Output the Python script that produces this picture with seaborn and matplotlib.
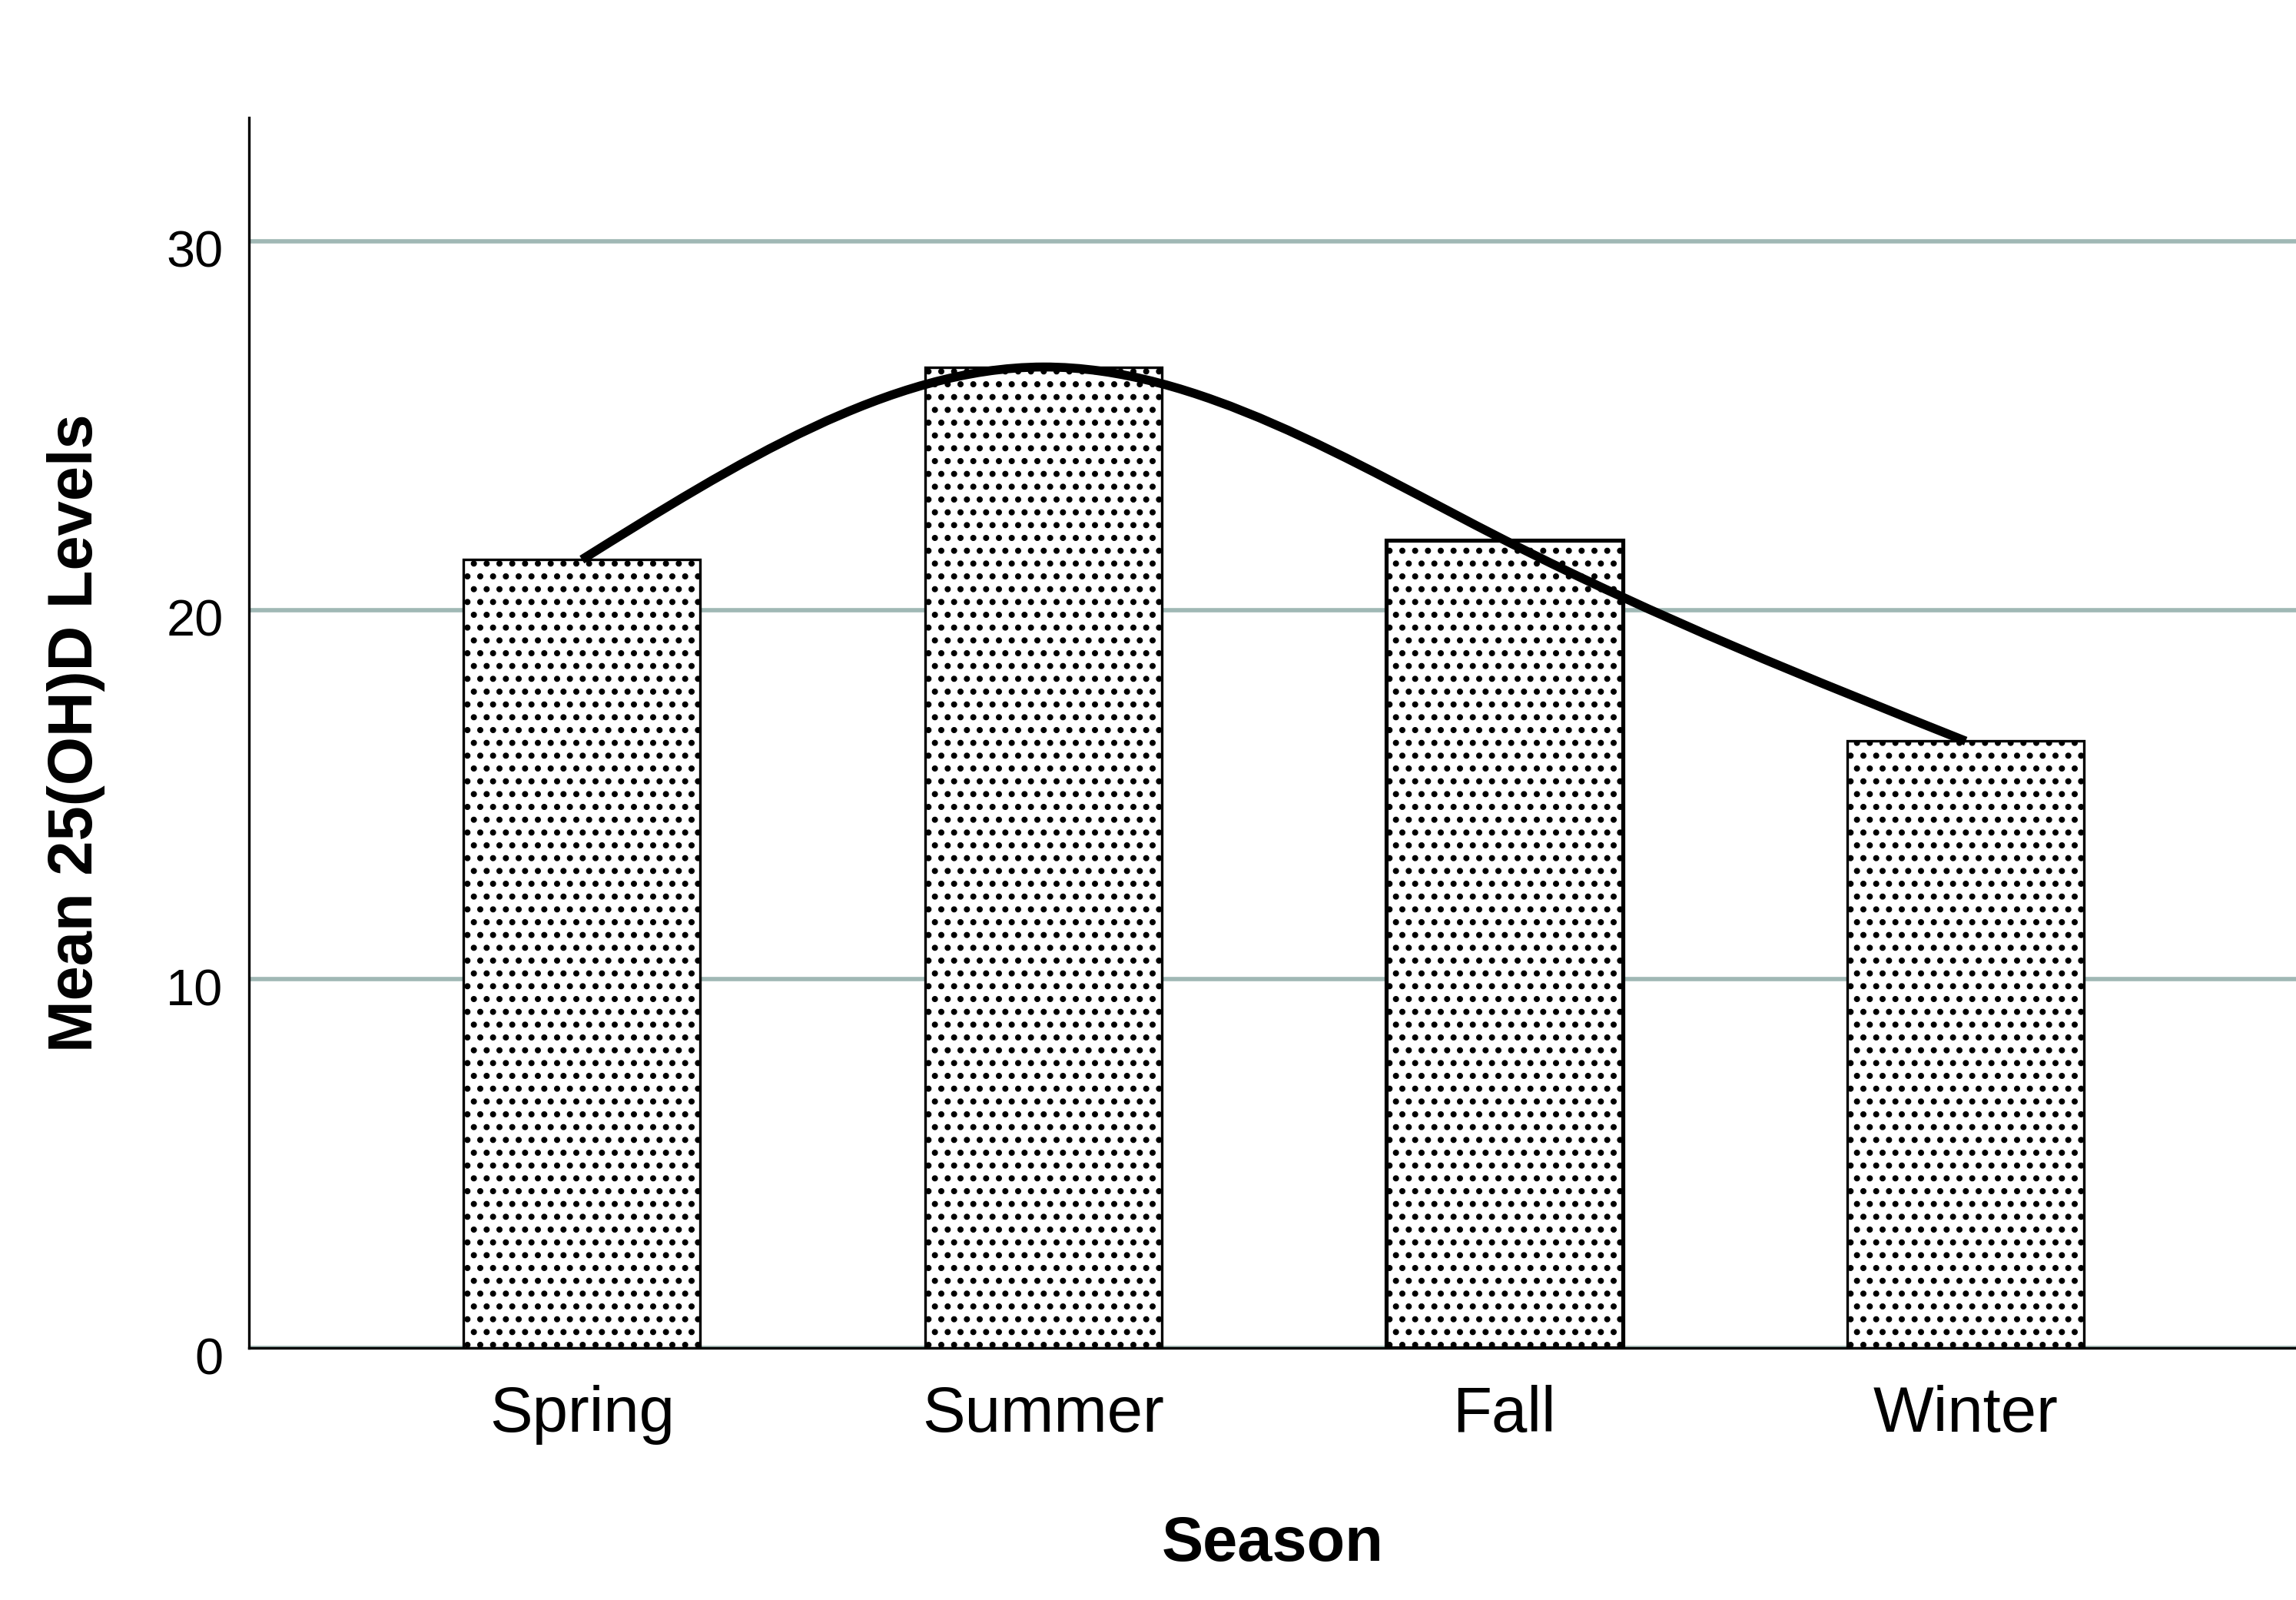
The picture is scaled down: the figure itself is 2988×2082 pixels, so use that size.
import numpy as np
import seaborn as sns
import matplotlib.pyplot as plt
from matplotlib.path import Path
from matplotlib.patches import PathPatch
from matplotlib.transforms import ScaledTranslation

seasons = ["Spring", "Summer", "Fall", "Winter"]
mean_levels = [21.37, 26.59, 21.90, 16.45]
y_ticks = [0, 10, 20, 30]

sns.set_style("white")
plt.rcParams["font.family"] = ["Liberation Sans", "DejaVu Sans"]
plt.rcParams["text.color"] = "black"
plt.rcParams["axes.labelcolor"] = "black"
plt.rcParams["xtick.color"] = "black"
plt.rcParams["ytick.color"] = "black"
plt.rcParams["hatch.linewidth"] = 1.1
plt.rcParams["hatch.color"] = "black"

fig = plt.figure(figsize=(9.96, 6.94), dpi=300)
ax = fig.add_axes([0.1084, 0.1575, 0.8916, 0.769])

sns.barplot(
    x=seasons,
    y=mean_levels,
    color="white",
    saturation=1,
    edgecolor="black",
    linewidth=0.8,
    hatch="...",
    width=0.513,
    errorbar=None,
    ax=ax,
    zorder=3,
)
# the Fall bar has a heavier outline in the original
ax.patches[2].set_linewidth(1.25)

# smooth interpolation line through the bar tops (natural cubic spline as bezier path)
xs = np.arange(len(mean_levels), dtype=float)
ys = np.array(mean_levels)
n = len(ys)
A = np.zeros((n, n))
r = np.zeros(n)
A[0, 0] = A[-1, -1] = 1
for i in range(1, n - 1):
    A[i, i - 1], A[i, i], A[i, i + 1] = 1, 4, 1
    r[i] = 6 * (ys[i - 1] - 2 * ys[i] + ys[i + 1])
M = np.linalg.solve(A, r)
d = np.empty(n)
d[:-1] = np.diff(ys) - (2 * M[:-1] + M[1:]) / 6
d[-1] = ys[-1] - ys[-2] + (M[-2] + 2 * M[-1]) / 6

verts = [(xs[0], ys[0])]
codes = [Path.MOVETO]
for i in range(n - 1):
    verts += [
        (xs[i] + 1 / 3, ys[i] + d[i] / 3),
        (xs[i + 1] - 1 / 3, ys[i + 1] - d[i + 1] / 3),
        (xs[i + 1], ys[i + 1]),
    ]
    codes += [Path.CURVE4] * 3
ax.add_patch(
    PathPatch(
        Path(verts, codes),
        fill=False,
        edgecolor="black",
        linewidth=2.8,
        capstyle="butt",
        zorder=5,
    )
)

ax.set_xlim(-0.722, 3.716)
ax.set_ylim(0, 33.35)
ax.set_yticks(y_ticks)
ax.set_axisbelow(True)
ax.yaxis.grid(True, color="#a0b8b5", linewidth=1.35)
ax.xaxis.grid(False)

for side in ["top", "right"]:
    ax.spines[side].set_visible(False)
for side in ["left", "bottom"]:
    ax.spines[side].set_color("black")
    ax.spines[side].set_linewidth(0.8)
    ax.spines[side].set_zorder(4)

ax.tick_params(axis="x", length=0, labelsize=20, pad=11.5, labelcolor="black")
ax.tick_params(axis="y", length=0, labelsize=16, pad=8, labelcolor="black")

# y tick labels sit slightly below their gridlines in the original
shift = ScaledTranslation(0, -10 / 300, fig.dpi_scale_trans)
for lab in ax.get_yticklabels():
    lab.set_transform(lab.get_transform() + shift)

ax.set_xlabel("Season", fontsize=19.5, fontweight="bold", labelpad=22, color="black")
ax.set_ylabel("Mean 25(OH)D Levels", fontsize=19.5, fontweight="bold",
              labelpad=19, color="black")

fig.savefig("out.png", dpi=300)
